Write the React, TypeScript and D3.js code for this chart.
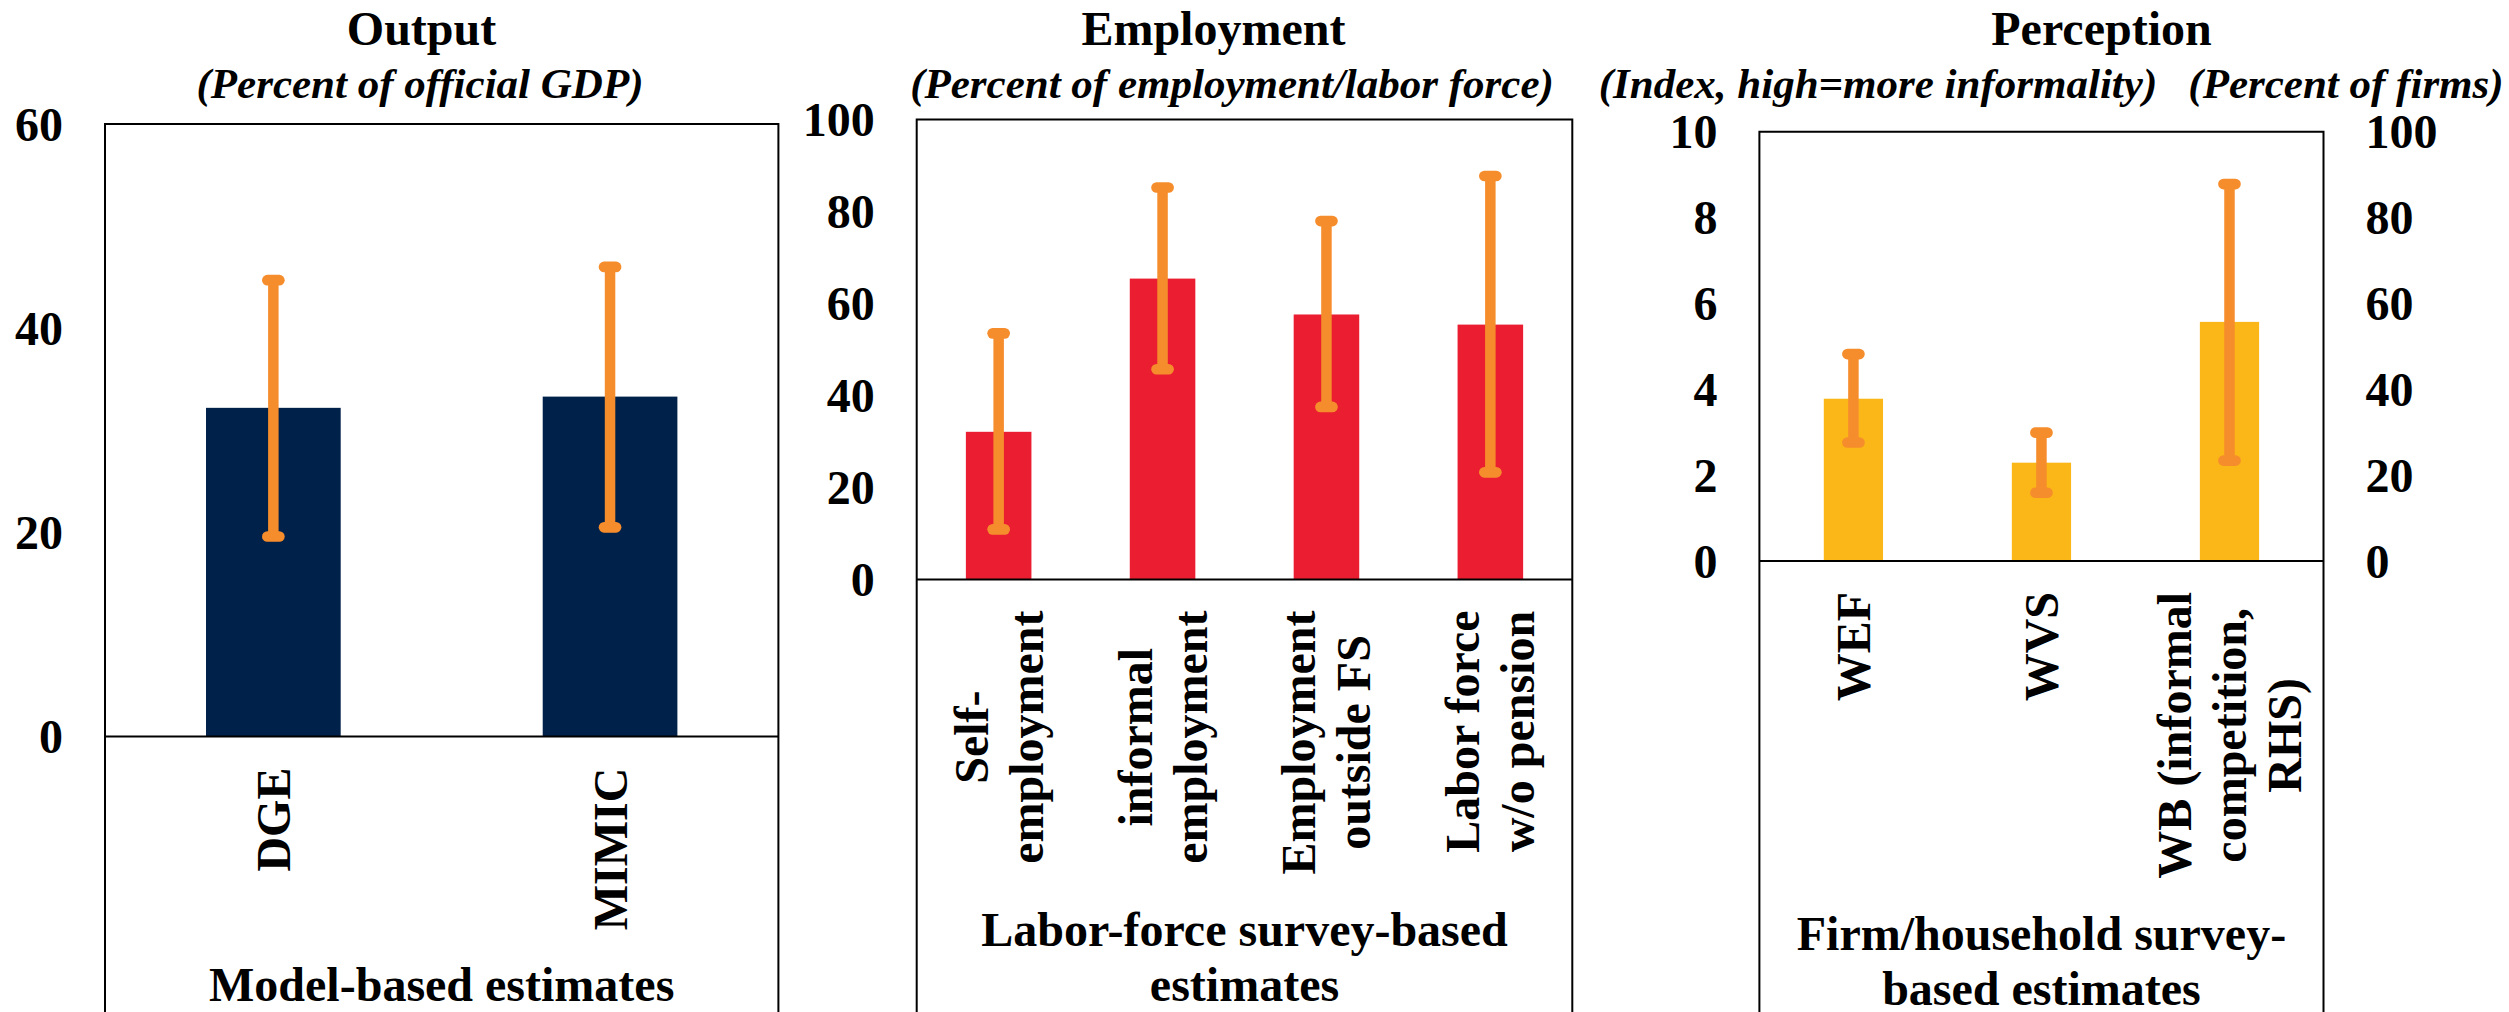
import React, { useEffect, useRef } from "react";
import * as d3 from "d3";

// ---------- DATA ----------
const outputCategories: string[][] = [["DGE"], ["MIMIC"]];
const outputValues = [32.2, 33.3];
const outputLow = [19.6, 20.5];
const outputHigh = [44.7, 46.0];
const outputTicks = [0, 20, 40, 60];

const employmentCategories: string[][] = [
  ["Self-", "employment"],
  ["informal", "employment"],
  ["Employment", "outside FS"],
  ["Labor force", "w/o pension"],
];
const employmentValues = [32.1, 65.4, 57.6, 55.4];
const employmentLow = [10.9, 45.7, 37.5, 23.3];
const employmentHigh = [53.5, 85.2, 77.9, 87.7];
const employmentTicks = [0, 20, 40, 60, 80, 100];

const perceptionCategories: string[][] = [["WEF"], ["WVS"], ["WB (informal", "competition,", "RHS)"]];
const perceptionAxis = ["left", "left", "right"];
const perceptionValues = [3.78, 2.29, 55.7];
const perceptionLow = [2.76, 1.59, 23.4];
const perceptionHigh = [4.82, 2.99, 87.8];
const perceptionLeftTicks = [0, 2, 4, 6, 8, 10];
const perceptionRightTicks = [0, 20, 40, 60, 80, 100];

const titles = ["Output", "Employment", "Perception"];
const subtitles = [
  ["(Percent of official GDP)"],
  ["(Percent of employment/labor force)"],
  ["(Index, high=more informality)", "(Percent of firms)"],
];
const groupLabels = [
  ["Model-based estimates"],
  ["Labor-force survey-based", "estimates"],
  ["Firm/household survey-", "based estimates"],
];

// ---------- STYLE / LAYOUT ----------
const FONT = "'Liberation Serif', 'Times New Roman', serif";
const ORANGE = "#F68D2C";

type Panel = {
  x0: number; x1: number; top: number; zero: number;
  leftMax: number; leftTicks: number[];
  rightMax?: number; rightTicks?: number[];
  barRatio: number; color: string;
  categories: string[][]; values: number[]; low: number[]; high: number[]; axis?: string[];
  title: string; titleX: number;
  subs: string[]; subX: number[];
  group: string[]; groupY: number[];
};

const panels: Panel[] = [
  {
    x0: 105, x1: 778.4, top: 124, zero: 736.6,
    leftMax: 60, leftTicks: outputTicks,
    barRatio: 0.4, color: "#00214A",
    categories: outputCategories, values: outputValues, low: outputLow, high: outputHigh,
    title: titles[0], titleX: 421.5, subs: subtitles[0], subX: [420],
    group: groupLabels[0], groupY: [1000.5],
  },
  {
    x0: 916.7, x1: 1572.3, top: 119.4, zero: 579.5,
    leftMax: 100, leftTicks: employmentTicks,
    barRatio: 0.4, color: "#EB1E31",
    categories: employmentCategories, values: employmentValues, low: employmentLow, high: employmentHigh,
    title: titles[1], titleX: 1213.4, subs: subtitles[1], subX: [1232],
    group: groupLabels[1], groupY: [945.5, 1000.5],
  },
  {
    x0: 1759.4, x1: 2323.5, top: 131.7, zero: 561,
    leftMax: 10, leftTicks: perceptionLeftTicks,
    rightMax: 100, rightTicks: perceptionRightTicks,
    barRatio: 0.315, color: "#FBB618",
    categories: perceptionCategories, values: perceptionValues, low: perceptionLow, high: perceptionHigh,
    axis: perceptionAxis,
    title: titles[2], titleX: 2101.5, subs: subtitles[2], subX: [1878, 2346],
    group: groupLabels[2], groupY: [950, 1005],
  },
];

export default function App() {
  const ref = useRef<SVGSVGElement>(null);

  useEffect(() => {
    const svg = d3.select(ref.current);
    svg.selectAll("*").remove();
    svg.append("rect").attr("width", 2509).attr("height", 1012).attr("fill", "#fff");

    panels.forEach((p) => {
      const g = svg.append("g").attr("font-family", FONT).attr("font-weight", "bold").attr("fill", "#000");
      const n = p.categories.length;
      const pad = 1 - p.barRatio;
      const x = d3.scaleBand<number>()
        .domain(d3.range(n))
        .range([p.x0, p.x1])
        .paddingInner(pad)
        .paddingOuter(pad / 2);
      const yL = d3.scaleLinear().domain([0, p.leftMax]).range([p.zero, p.top]);
      const yR = p.rightMax ? d3.scaleLinear().domain([0, p.rightMax]).range([p.zero, p.top]) : yL;
      const yOf = (i: number) => (p.axis && p.axis[i] === "right" ? yR : yL);

      // bars
      g.selectAll("rect.bar")
        .data(p.values)
        .join("rect")
        .attr("class", "bar")
        .attr("x", (_, i) => x(i)!)
        .attr("width", x.bandwidth())
        .attr("y", (v, i) => yOf(i)(v))
        .attr("height", (v, i) => p.zero - yOf(i)(v))
        .attr("fill", p.color);

      // error bars
      const cx = (i: number) => x(i)! + x.bandwidth() / 2;
      p.values.forEach((_, i) => {
        const y = yOf(i);
        g.append("line")
          .attr("x1", cx(i)).attr("x2", cx(i))
          .attr("y1", y(p.high[i])).attr("y2", y(p.low[i]))
          .attr("stroke", ORANGE).attr("stroke-width", 10.5);
        [p.high[i], p.low[i]].forEach((v) => {
          g.append("line")
            .attr("x1", cx(i) - 6).attr("x2", cx(i) + 6)
            .attr("y1", y(v)).attr("y2", y(v))
            .attr("stroke", ORANGE).attr("stroke-width", 10.7)
            .attr("stroke-linecap", "round");
        });
      });

      // frame
      g.append("path")
        .attr("d", `M${p.x0},1040V${p.top}H${p.x1}V1040`)
        .attr("fill", "none").attr("stroke", "#000").attr("stroke-width", 2);
      g.append("line")
        .attr("x1", p.x0).attr("x2", p.x1).attr("y1", p.zero).attr("y2", p.zero)
        .attr("stroke", "#000").attr("stroke-width", 2);

      // left ticks
      g.selectAll("text.lt")
        .data(p.leftTicks)
        .join("text")
        .attr("class", "lt")
        .attr("x", p.x0 - 42)
        .attr("y", (t) => yL(t) + 16.5)
        .attr("text-anchor", "end")
        .attr("font-size", 48)
        .text((t) => String(t));
      if (p.rightTicks) {
        g.selectAll("text.rt")
          .data(p.rightTicks)
          .join("text")
          .attr("class", "rt")
          .attr("x", p.x1 + 42)
          .attr("y", (t) => yR(t) + 16.5)
          .attr("text-anchor", "start")
          .attr("font-size", 48)
          .text((t) => String(t));
      }

      // title & subtitles
      g.append("text")
        .attr("x", p.titleX).attr("y", 44.5)
        .attr("text-anchor", "middle").attr("font-size", 48)
        .text(p.title);
      p.subs.forEach((s, k) => {
        g.append("text")
          .attr("x", p.subX[k]).attr("y", 97.5)
          .attr("text-anchor", "middle").attr("font-size", 43)
          .attr("font-style", "italic")
          .text(s);
      });

      // category labels (rotated)
      const LH = 55;
      p.categories.forEach((lines, i) => {
        const lg = g.append("g");
        const texts = lines.map((line, k) => {
          const bx = cx(i) + (k - (lines.length - 1) / 2) * LH + 16.5;
          return lg.append("text")
            .attr("text-anchor", "middle")
            .attr("font-size", 48)
            .attr("data-bx", bx)
            .text(line);
        });
        const maxLen = d3.max(texts, (t) => (t.node() as SVGTextElement).getComputedTextLength()) || 0;
        const cy = p.zero + 31 + maxLen / 2;
        texts.forEach((t) => {
          const bx = +t.attr("data-bx");
          t.attr("transform", `translate(${bx},${cy}) rotate(-90)`);
        });
      });

      // group labels
      const gc = (p.x0 + p.x1) / 2;
      p.group.forEach((s, k) => {
        g.append("text")
          .attr("x", gc).attr("y", p.groupY[k])
          .attr("text-anchor", "middle").attr("font-size", 48)
          .text(s);
      });
    });
  }, []);

  return (
    <svg
      ref={ref}
      width={2509}
      height={1012}
      style={{ position: "absolute", left: 0, top: 0, display: "block" }}
    />
  );
}
